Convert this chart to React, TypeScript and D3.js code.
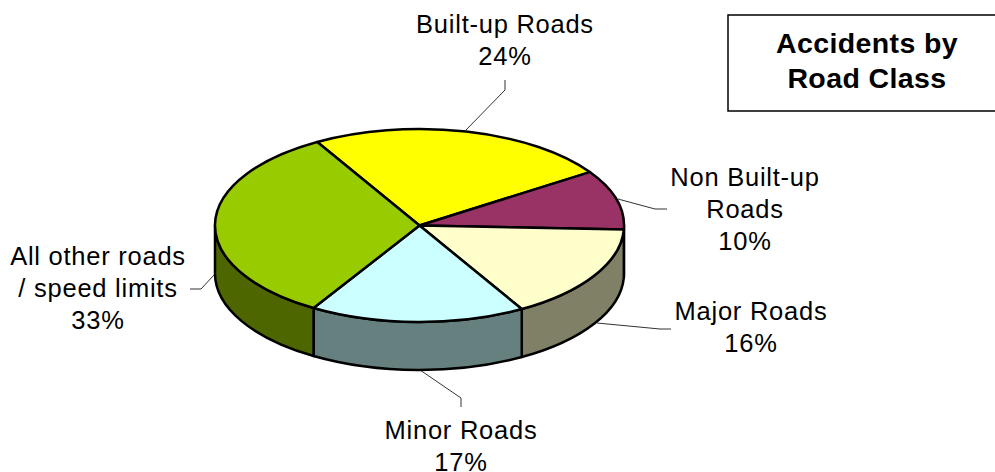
import React from "react";
import * as d3 from "d3";

const categories = ["Built-up Roads", "Non Built-up Roads", "Major Roads", "Minor Roads", "All other roads / speed limits"];
const shares = [24, 10, 16, 17, 33];
const topColors = ["#FFFF00", "#993366", "#FFFFCC", "#CCFFFF", "#99CC00"];
const wallColors = ["#808000", "#4D1A33", "#808066", "#668080", "#4D6600"];
const labelLines = [
  ["Built-up Roads", "24%"],
  ["Non Built-up", "Roads", "10%"],
  ["Major Roads", "16%"],
  ["Minor Roads", "17%"],
  ["All other roads", "/ speed limits", "33%"],
];
const titleLines = ["Accidents by", "Road Class"];

const W = 995, H = 472;
const cx = 419.5, cy = 225.5, rx = 204.5, ry = 96.5, depth = 48;
const FONT = "'Liberation Sans', Arial, sans-serif";
const labelAnchors = [
  { x: 505, y: 33 },
  { x: 745, y: 186 },
  { x: 751, y: 320 },
  { x: 461, y: 439 },
  { x: 98, y: 265 },
];
const leaders = [
  [[466, 130], [505, 90], [505, 80]],
  [[618, 199], [655, 209], [667, 209]],
  [[597, 323], [660, 329], [671, 329]],
  [[420, 370], [461, 398], [461, 407]],
  [[214, 275], [201, 289], [190, 289]],
];

const px = (a: number) => cx + rx * Math.sin(a);
const py = (a: number, d = 0) => cy - ry * Math.cos(a) + d;

function arcPath(a0: number, a1: number) {
  const large = a1 - a0 > Math.PI ? 1 : 0;
  return `M${cx},${cy}L${px(a0)},${py(a0)}A${rx},${ry} 0 ${large} 1 ${px(a1)},${py(a1)}Z`;
}
function wallPath(a0: number, a1: number) {
  const s = Math.max(a0, Math.PI / 2), e = Math.min(a1, (3 * Math.PI) / 2);
  if (e <= s) return null;
  const large = e - s > Math.PI ? 1 : 0;
  return `M${px(s)},${py(s)}A${rx},${ry} 0 ${large} 1 ${px(e)},${py(e)}L${px(e)},${py(e, depth)}A${rx},${ry} 0 ${large} 0 ${px(s)},${py(s, depth)}Z`;
}

export default function App() {
  const start = (-30 * Math.PI) / 180;
  const pie = d3.pie<number>().sort(null).startAngle(start).endAngle(start + 2 * Math.PI);
  const arcs = pie(shares);
  const line = d3.line();
  return (
    <svg width={W} height={H} viewBox={`0 0 ${W} ${H}`} style={{ position: "absolute", left: 0, top: 0, background: "#fff" }} fontFamily={FONT}>
      {leaders.map((l, i) => (
        <path key={i} d={line(l as [number, number][]) || ""} fill="none" stroke="#333" strokeWidth={1} />
      ))}
      {arcs.map((a, i) => {
        const d = wallPath(a.startAngle, a.endAngle);
        return d ? <path key={i} d={d} fill={wallColors[i]} stroke="#000" strokeWidth={2.5} strokeLinejoin="round" /> : null;
      })}
      {arcs.map((a, i) => (
        <path key={i} d={arcPath(a.startAngle, a.endAngle)} fill={topColors[i]} stroke="#000" strokeWidth={2.5} strokeLinejoin="round">
          <title>{categories[i]}</title>
        </path>
      ))}
      {labelLines.map((ls, i) => (
        <text key={i} x={labelAnchors[i].x} y={labelAnchors[i].y} textAnchor="middle" fontSize={25.5} letterSpacing={0.75} fill="#000">
          {ls.map((t, j) => (
            <tspan key={j} x={labelAnchors[i].x} y={labelAnchors[i].y + j * 32}>{t}</tspan>
          ))}
        </text>
      ))}
      <rect x={728} y={15} width={280} height={96} fill="#fff" stroke="#000" strokeWidth={1.5} />
      {titleLines.map((t, j) => (
        <text key={j} x={867} y={53 + j * 35} textAnchor="middle" fontSize={28.5} fontWeight="bold" letterSpacing={0.4} fill="#000">{t}</text>
      ))}
    </svg>
  );
}
